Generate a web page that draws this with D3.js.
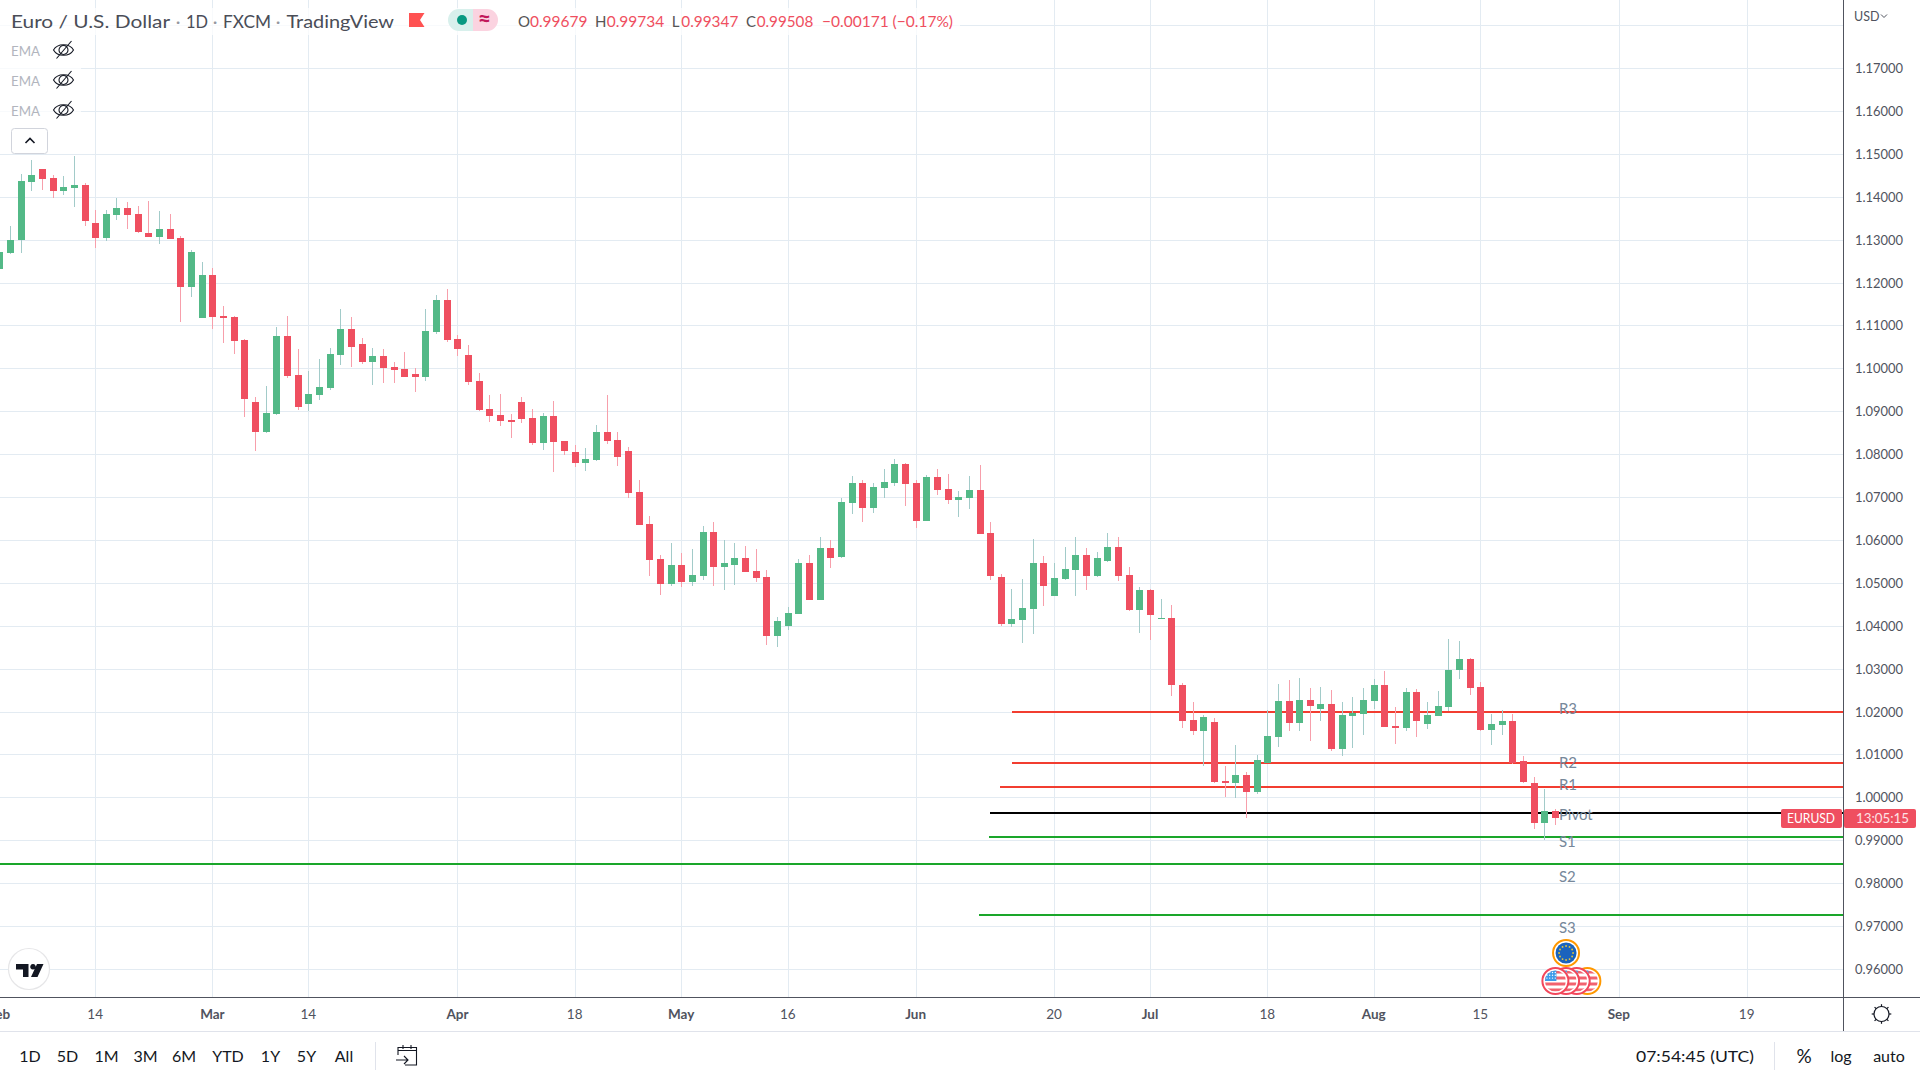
<!DOCTYPE html>
<html><head><meta charset="utf-8">
<script src="https://cdn.jsdelivr.net/npm/d3@7/dist/d3.min.js"></script>
<style>html,body{margin:0;padding:0;background:#fff;overflow:hidden}svg{display:block}text{font-family:Lato,"Noto Sans",sans-serif}</style>
</head><body><svg id="c" width="1920" height="1080"></svg>
<script>
const open=[1.1231,1.1268,1.1299,1.1434,1.1464,1.1443,1.1413,1.1420,1.1427,1.1338,
1.1303,1.1357,1.1373,1.1359,1.1315,1.1306,1.1324,1.1303,1.1189,1.1117,
1.1217,1.1122,1.1119,1.1066,1.0922,1.0852,1.0894,1.1075,1.0984,1.0917,
1.0938,1.0954,1.1031,1.1091,1.1057,1.1015,1.1029,1.1003,1.0998,1.0987,
1.0980,1.1085,1.1159,1.1069,1.1031,1.0971,1.0905,1.0891,1.0880,1.0922,
1.0884,1.0826,1.0889,1.0831,1.0805,1.0780,1.0787,1.0852,1.0833,1.0808,
1.0712,1.0638,1.0556,1.0498,1.0542,1.0502,1.0516,1.0619,1.0537,1.0542,
1.0558,1.0528,1.0514,1.0377,1.0400,1.0428,1.0547,1.0461,1.0582,1.0561,
1.0686,1.0733,1.0675,1.0721,1.0733,1.0777,1.0733,1.0645,1.0747,1.0719,
1.0693,1.0698,1.0717,1.0617,1.0514,1.0405,1.0414,1.0440,1.0547,1.0470,
1.0509,1.0530,1.0565,1.0516,1.0551,1.0584,1.0519,1.0437,1.0484,1.0416,
1.0419,1.0262,1.0180,1.0154,1.0175,1.0038,1.0033,1.0052,1.0012,1.0080,
1.0140,1.0224,1.0173,1.0226,1.0205,1.0217,1.0112,1.0189,1.0194,1.0224,
1.0261,1.0166,1.0161,1.0245,1.0170,1.0189,1.0210,1.0296,1.0322,1.0257,
1.0157,1.0168,1.0178,1.0085,1.0033,0.9940,0.99679];
const high=[1.1278,1.1331,1.1453,1.1485,1.1464,1.1450,1.1448,1.1495,1.1432,1.1369,
1.1369,1.1397,1.1387,1.1378,1.1390,1.1366,1.1359,1.1308,1.1275,1.1247,
1.1233,1.1145,1.1122,1.1069,1.0933,1.0959,1.1096,1.1122,1.1045,1.0994,
1.1022,1.1047,1.1138,1.1119,1.1071,1.1047,1.1045,1.1015,1.1038,1.1001,
1.1138,1.1171,1.1185,1.1078,1.1054,1.0989,1.0938,1.0940,1.0894,1.0933,
1.0905,1.0896,1.0924,1.0831,1.0822,1.0815,1.0868,1.0938,1.0852,1.0817,
1.0740,1.0656,1.0565,1.0593,1.0570,1.0579,1.0633,1.0642,1.0600,1.0593,
1.0586,1.0579,1.0530,1.0421,1.0444,1.0556,1.0565,1.0607,1.0600,1.0698,
1.0749,1.0740,1.0733,1.0766,1.0789,1.0780,1.0740,1.0752,1.0766,1.0754,
1.0714,1.0749,1.0775,1.0642,1.0521,1.0486,1.0509,1.0603,1.0563,1.0547,
1.0584,1.0607,1.0582,1.0572,1.0617,1.0607,1.0537,1.0491,1.0486,1.0463,
1.0449,1.0267,1.0222,1.0191,1.0184,1.0073,1.0122,1.0059,1.0098,1.0203,
1.0265,1.0273,1.0278,1.0254,1.0257,1.0250,1.0222,1.0233,1.0254,1.0275,
1.0294,1.0210,1.0254,1.0252,1.0222,1.0247,1.0368,1.0364,1.0326,1.0268,
1.0194,1.0203,1.0194,1.0096,1.0047,1.0019,0.99734];
const low=[1.1220,1.1266,1.1268,1.1413,1.1415,1.1397,1.1404,1.1376,1.1331,1.1280,
1.1296,1.1345,1.1324,1.1315,1.1306,1.1289,1.1301,1.1108,1.1166,1.1117,
1.1091,1.1059,1.1033,1.0887,1.0808,1.0850,1.0892,1.0978,1.0903,1.0901,
1.0926,1.0950,1.1008,1.1003,1.1010,1.0961,1.0966,1.0966,1.0980,1.0945,
1.0971,1.1080,1.1062,1.1029,1.0961,1.0901,1.0875,1.0866,1.0838,1.0873,
1.0822,1.0810,1.0759,1.0798,1.0770,1.0761,1.0784,1.0824,1.0773,1.0698,
1.0635,1.0516,1.0472,1.0493,1.0491,1.0493,1.0507,1.0493,1.0484,1.0495,
1.0526,1.0502,1.0356,1.0351,1.0391,1.0428,1.0461,1.0461,1.0535,1.0558,
1.0661,1.0642,1.0663,1.0698,1.0726,1.0680,1.0628,1.0645,1.0705,1.0684,
1.0654,1.0673,1.0613,1.0507,1.0400,1.0398,1.0360,1.0381,1.0446,1.0470,
1.0507,1.0470,1.0484,1.0514,1.0549,1.0505,1.0435,1.0384,1.0367,1.0416,
1.0237,1.0161,1.0145,1.0073,1.0033,1.0001,0.9998,0.9952,1.0008,1.0080,
1.0117,1.0154,1.0154,1.0131,1.0178,1.0108,1.0096,1.0115,1.0145,1.0205,
1.0164,1.0124,1.0154,1.0140,1.0159,1.0189,1.0201,1.0275,1.0238,1.0154,
1.0122,1.0145,1.0078,1.0033,0.9926,0.9901,0.99347];
const close=[1.1271,1.1300,1.1436,1.1450,1.1441,1.1413,1.1422,1.1427,1.1343,1.1303,
1.1359,1.1373,1.1357,1.1317,1.1306,1.1324,1.1301,1.1189,1.1271,1.1217,
1.1119,1.1117,1.1064,1.0929,1.0852,1.0896,1.1075,1.0982,1.0910,1.0941,
1.0957,1.1033,1.1091,1.1050,1.1015,1.1029,1.1001,1.0996,1.0980,1.0980,
1.1087,1.1159,1.1066,1.1045,1.0968,1.0903,1.0889,1.0877,1.0875,1.0882,
1.0826,1.0889,1.0829,1.0808,1.0780,1.0789,1.0852,1.0831,1.0794,1.0710,
1.0635,1.0554,1.0498,1.0542,1.0502,1.0519,1.0619,1.0537,1.0547,1.0558,
1.0526,1.0512,1.0377,1.0412,1.0430,1.0547,1.0461,1.0582,1.0558,1.0689,
1.0733,1.0675,1.0724,1.0735,1.0777,1.0731,1.0645,1.0747,1.0717,1.0693,
1.0700,1.0717,1.0614,1.0516,1.0405,1.0416,1.0442,1.0547,1.0493,1.0512,
1.0533,1.0565,1.0516,1.0558,1.0584,1.0516,1.0437,1.0484,1.0426,1.0419,
1.0262,1.0178,1.0154,1.0187,1.0036,1.0033,1.0052,1.0012,1.0087,1.0143,
1.0224,1.0173,1.0226,1.0212,1.0217,1.0112,1.0191,1.0196,1.0226,1.0261,
1.0164,1.0161,1.0245,1.0178,1.0191,1.0212,1.0298,1.0322,1.0254,1.0157,
1.0171,1.0178,1.0080,1.0036,0.9940,0.9968,0.99508];

const timeTickBars=[0,9,20,29,43,54,64,74,86,99,108,119,129,139,152,164];
const timeTickLabels=["Feb","14","Mar","14","Apr","18","May","16","Jun","20","Jul","18","Aug","15","Sep","19"];
const priceTicks=[0.96,0.97,0.98,0.99,1.00,1.01,1.02,1.03,1.04,1.05,1.06,1.07,1.08,1.09,1.10,1.11,1.12,1.13,1.14,1.15,1.16,1.17];
const pivotNames=["R3","R2","R1","Pivot","S1","S2","S3"];
const pivotValues=[1.0198,1.0081,1.0024,0.9964,0.9907,0.9845,0.9726];
const pivotStart=[94.97,94.97,93.9,92.95,92.87,-9,91.92];
const pivotColors=["#f23d30","#f23d30","#f23d30","#000000","#1aa62a","#1aa62a","#1aa62a"];
const pivotLabelDy=[-3,0,-2,2,5,13,13];
const usEventBars=[149,148,147,146];
const euEventBars=[147];
const toolbarLabels=["1D","5D","1M","3M","6M","YTD","1Y","5Y","All"];
const toolbarX=[30,67.5,106.5,145.5,184,228,270.5,306.5,344];

const W=1920,H=1080,axisX=1843,axisY=997,footY=1031;
const RED="#ef4f60",GREEN="#53b987",RW="#f79fab",GW="#a2cbc9",GRID="#e3ebf2",AX="#50535e",TXT="#131722";
const x=d3.scaleLinear().domain([9,152]).range([95.67,1619.33]);
const y=d3.scaleLinear().domain([0.96,1.17]).range([969,68]);
const svg=d3.select("#c");
const defs=svg.append("defs");
defs.append("clipPath").attr("id","pane").append("rect").attr("width",axisX).attr("height",axisY);
svg.append("rect").attr("width",W).attr("height",H).attr("fill","#fff");

const pane=svg.append("g").attr("clip-path","url(#pane)");
// grid
const gridG=pane.append("g").attr("shape-rendering","crispEdges");
gridG.selectAll(".gh").data(priceTicks.concat([1.18])).join("line")
  .attr("x1",0).attr("x2",axisX).attr("y1",d=>Math.round(y(d))+.5).attr("y2",d=>Math.round(y(d))+.5).attr("stroke",GRID);
gridG.selectAll(".gv").data(timeTickBars).join("line")
  .attr("y1",0).attr("y2",axisY).attr("x1",d=>Math.round(x(d)-.5)+.5).attr("x2",d=>Math.round(x(d)-.5)+.5).attr("stroke",GRID);

// pivot lines below the candles
pane.append("g").selectAll("line").data(pivotValues).join("line")
  .attr("x1",(d,i)=>x(pivotStart[i])).attr("x2",axisX).attr("y1",d=>Math.round(y(d))).attr("y2",d=>Math.round(y(d)))
  .attr("stroke",(d,i)=>pivotColors[i]).attr("stroke-width",2).attr("shape-rendering","crispEdges");

// candles
const bars=d3.range(open.length);
const cg=pane.append("g").attr("shape-rendering","crispEdges");
const cx=i=>Math.round(x(i)-.5);
cg.selectAll(".w").data(bars).join("rect").attr("x",cx).attr("width",1)
  .attr("y",i=>Math.round(y(high[i]))).attr("height",i=>Math.max(1,Math.round(y(low[i]))-Math.round(y(high[i]))))
  .attr("fill",i=>close[i]>=open[i]?GW:RW);
cg.selectAll(".b").data(bars).join("rect").attr("x",i=>cx(i)-3).attr("width",7)
  .attr("y",i=>Math.round(y(Math.max(open[i],close[i]))))
  .attr("height",i=>Math.max(1,Math.round(y(Math.min(open[i],close[i])))-Math.round(y(Math.max(open[i],close[i])))))
  .attr("fill",i=>close[i]>=open[i]?GREEN:RED);

// pivot labels
pane.append("g").selectAll("text").data(pivotNames).join("text")
  .attr("x",x(146)+3.5).attr("y",(d,i)=>y(pivotValues[i])+pivotLabelDy[i]+5)
  .attr("font-size",15).attr("fill","#76879a").text(d=>d);

// event icons
const usClip=defs.append("clipPath").attr("id","usc");usClip.append("circle").attr("r",10.5);
function usIcon(g,i,ring){
  const t=g.append("g").attr("transform",`translate(${x(i)},981)`);
  t.append("circle").attr("r",13).attr("fill","#fff").attr("stroke",ring).attr("stroke-width",2);
  const c=t.append("g").attr("clip-path","url(#usc)");
  [-9,-3,3,9].forEach(s=>c.append("rect").attr("x",-11).attr("width",22).attr("y",s-1.5).attr("height",3).attr("fill","#f2626f"));
  c.append("rect").attr("x",-11).attr("y",-11).attr("width",12).attr("height",11).attr("fill","#3d9be9");
  for(let a=0;a<3;a++)for(let b=0;b<4;b++)c.append("circle").attr("cx",-8.5+b*2.8).attr("cy",-8.5+a*2.8).attr("r",.7).attr("fill","#fff");
}
const ev=svg.append("g");
usEventBars.forEach((b,k)=>usIcon(ev,b,k===0?"#ff9800":"#f2475b"));
euEventBars.forEach(b=>{
  const t=ev.append("g").attr("transform",`translate(${x(b)},953)`);
  t.append("circle").attr("r",13).attr("fill","#fff").attr("stroke","#ff9800").attr("stroke-width",2);
  t.append("circle").attr("r",10.5).attr("fill","#1a63bd");
  d3.range(12).forEach(k=>t.append("circle").attr("cx",7*Math.cos(k*Math.PI/6)).attr("cy",7*Math.sin(k*Math.PI/6)).attr("r",.9).attr("fill","#e8c83a"));
});

// axes
const yAxis=d3.axisRight(y).tickValues(priceTicks).tickSize(0).tickPadding(12).tickFormat(d3.format(".5f"));
const ya=svg.append("g").attr("transform",`translate(${axisX},0)`).call(yAxis);
ya.select(".domain").remove();
ya.selectAll("text").attr("font-size",14).attr("font-family","Lato,sans-serif").attr("fill",AX)
  .attr("textLength",48).attr("lengthAdjust","spacingAndGlyphs");
const xAxis=d3.axisBottom(x).tickValues(timeTickBars).tickSize(0).tickPadding(12).tickFormat((d,i)=>timeTickLabels[i]);
const clipAxis=svg.append("g").attr("clip-path","url(#xclip)");
defs.append("clipPath").attr("id","xclip").append("rect").attr("width",axisX).attr("height",H);
const xa=clipAxis.append("g").attr("transform",`translate(-1,${axisY})`).call(xAxis);
xa.select(".domain").remove();
xa.selectAll("text").attr("font-size",13.5).attr("font-family","Lato,sans-serif").attr("fill",AX)
  .attr("font-weight",(d,i)=>i%2===0?700:400);

// frame
const fr=svg.append("g").attr("stroke",AX).attr("shape-rendering","crispEdges");
fr.append("line").attr("x1",0).attr("x2",W).attr("y1",axisY+.5).attr("y2",axisY+.5);
fr.append("line").attr("x1",axisX+.5).attr("x2",axisX+.5).attr("y1",0).attr("y2",footY);
svg.append("line").attr("x1",0).attr("x2",W).attr("y1",footY+.5).attr("y2",footY+.5).attr("stroke","#e0e3eb").attr("shape-rendering","crispEdges");

// last price tags
const ty=y(close[close.length-1]);
svg.append("rect").attr("x",1781).attr("y",ty-9.5).attr("width",61).attr("height",19).attr("rx",2).attr("fill",RED);
svg.append("rect").attr("x",1844).attr("y",ty-9.5).attr("width",72).attr("height",19).attr("rx",2).attr("fill",RED);
svg.append("text").attr("x",1787).attr("y",ty+5).attr("font-size",14).attr("fill","#fff").attr("textLength",48).attr("lengthAdjust","spacingAndGlyphs").text("EURUSD");
svg.append("text").attr("x",1856).attr("y",ty+5).attr("font-size",14).attr("fill","#fde3e6").attr("textLength",53).attr("lengthAdjust","spacingAndGlyphs").text("13:05:15");

// header
svg.append("rect").attr("x",0).attr("y",8).attr("width",960).attr("height",27).attr("fill","#fff").attr("opacity",.75);
svg.append("rect").attr("x",0).attr("y",38).attr("width",81).attr("height",88).attr("fill","#fff").attr("opacity",.75);
function t(x0,yy,s,size,fill,len,anchor,weight){
  const e=svg.append("text").attr("x",x0).attr("y",yy).attr("font-size",size).attr("fill",fill).text(s);
  if(len)e.attr("textLength",len).attr("lengthAdjust","spacingAndGlyphs");
  if(anchor)e.attr("text-anchor",anchor);
  if(weight)e.attr("font-weight",weight);
  return e;
}
t(11,27.5,"Euro / U.S. Dollar",18,"#4a4d57",159);
t(178,27.5,"·",18,"#9598a1",null,"middle");
t(186,27.5,"1D",18,"#4a4d57",22);
t(215,27.5,"·",18,"#9598a1",null,"middle");
t(223,27.5,"FXCM",18,"#4a4d57",48);
t(278,27.5,"·",18,"#9598a1",null,"middle");
t(286.5,27.5,"TradingView",18,"#4a4d57",107.5);
svg.append("path").attr("d","M409 13H424.5L420 20L424.5 27H409Z").attr("fill","#ff5252");
svg.append("path").attr("d","M473 9H459A11 11 0 0 0 459 31H473Z").attr("fill","#d8f0ec");
svg.append("path").attr("d","M473 9H487A11 11 0 0 1 487 31H473Z").attr("fill","#fbd3e0");
svg.append("circle").attr("cx",462).attr("cy",20).attr("r",5).attr("fill","#089981");
svg.append("text").attr("x",484.5).attr("y",27).attr("text-anchor","middle").attr("font-size",23).attr("font-weight",700).attr("fill","#c2185b").text("≈");
const ohlcLabels=[["O",518,"0.99679",530,57.5],["H",595,"0.99734",606.7,57.5],["L",671.7,"0.99347",681.3,57],["C",746,"0.99508",756.7,56.6]];
ohlcLabels.forEach(d=>{t(d[1],26.5,d[0],15,"#555");t(d[3],26.5,d[2],15,RED,d[4]);});
t(822,26.5,"−0.00171 (−0.17%)",15,RED,131);

// EMA rows
[50,80,110].forEach(cy=>{
  t(11,cy+5.5,"EMA",14,"#b2b5be",29);
  const g=svg.append("g").attr("transform",`translate(63.5,${cy})`).attr("fill","none").attr("stroke",TXT).attr("stroke-width",1.1);
  g.append("path").attr("d","M-10 0C-6 -7 6 -7 10 0C6 7 -6 7 -10 0Z");
  g.append("circle").attr("r",4.5);
  g.append("path").attr("d","M-7 8.5L8 -9");
});
svg.append("rect").attr("x",11.5).attr("y",128.5).attr("width",36).attr("height",25).attr("rx",3).attr("fill","#fff").attr("stroke","#d1d4dc");
svg.append("path").attr("d","M25.5 143L30 138.5L34.5 143").attr("fill","none").attr("stroke",TXT).attr("stroke-width",1.6);

// USD
t(1854,21,"USD",12.5,AX);
svg.append("path").attr("d","M1881 14.5L1884 17.5L1887 14.5").attr("fill","none").attr("stroke",AX);

// logo
svg.append("circle").attr("cx",29).attr("cy",969).attr("r",20.5).attr("fill","#fff").attr("stroke","#e6e6e8").attr("stroke-width",1.2);
svg.append("path").attr("d","M16 964H28.5V977H23V969.5H16ZM33 964A2.8 2.8 0 1 1 32.99 964ZM37 964H43.5L37.5 977H31Z").attr("fill",TXT);

// gear
const gear=svg.append("g").attr("transform","translate(1881.5,1014)").attr("stroke",TXT).attr("fill","none").attr("stroke-width",1.2);
gear.append("circle").attr("r",7.5);
d3.range(8).forEach(k=>{const a=k*Math.PI/4;gear.append("line").attr("x1",7.5*Math.cos(a)).attr("y1",7.5*Math.sin(a)).attr("x2",9.8*Math.cos(a)).attr("y2",9.8*Math.sin(a));});

// toolbar
toolbarLabels.forEach((s,i)=>t(toolbarX[i],1062,s,16,TXT,null,"middle"));
svg.append("line").attr("x1",375.5).attr("x2",375.5).attr("y1",1042).attr("y2",1070).attr("stroke","#e0e3eb");
svg.append("path").attr("d","M398 1055V1050.5H416.5V1065H405M398 1050.5V1047.5H416.5V1050.5M403 1045V1049M411 1045V1049M396 1060H408M404 1056L408 1060L404 1064").attr("fill","none").attr("stroke",TXT).attr("stroke-width",1.1);
t(1695,1062,"07:54:45 (UTC)",16,TXT,118,"middle");
svg.append("line").attr("x1",1774.5).attr("x2",1774.5).attr("y1",1042).attr("y2",1070).attr("stroke","#e0e3eb");
t(1804,1063,"%",19,TXT,null,"middle");
t(1841,1062,"log",16,TXT,null,"middle");
t(1889,1062,"auto",16,TXT,null,"middle");
</script></body></html>
